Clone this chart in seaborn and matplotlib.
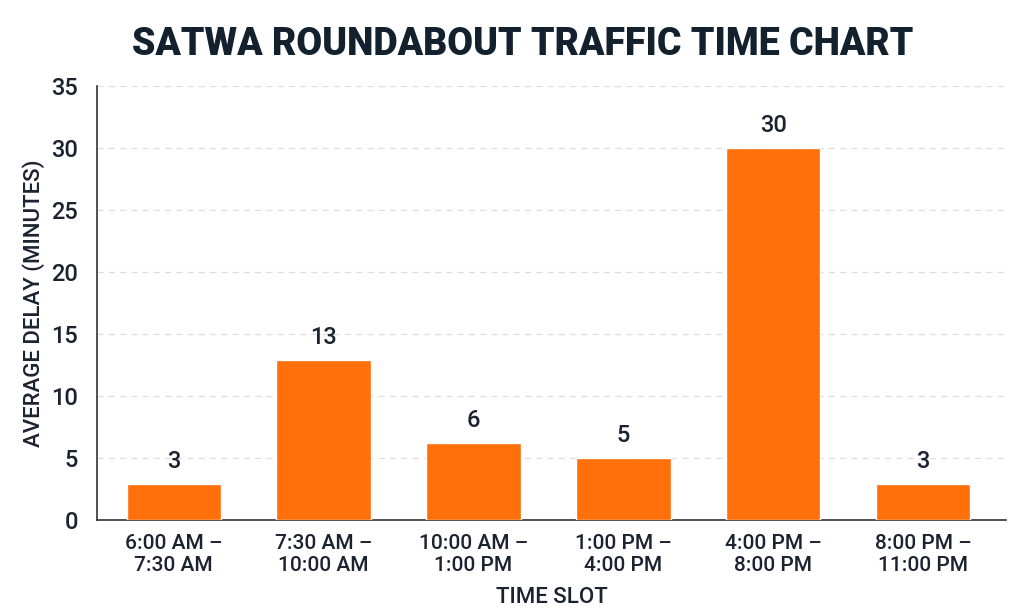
import matplotlib
matplotlib.use("Agg")
import matplotlib.pyplot as plt
import seaborn as sns
import pandas as pd

time_slots = ["6:00 AM –\n7:30 AM", "7:30 AM –\n10:00 AM", "10:00 AM –\n1:00 PM",
              "1:00 PM –\n4:00 PM", "4:00 PM –\n8:00 PM", "8:00 PM –\n11:00 PM"]
avg_delay = [2.9, 12.9, 6.2, 5.0, 30.0, 2.9]

df = pd.DataFrame({"slot": time_slots, "delay": avg_delay})

sns.set_style("white")
plt.rcParams["font.family"] = ["Roboto", "DejaVu Sans"]

text_color = "#1b2230"
bar_color = "#ff6f0a"

fig, ax = plt.subplots(figsize=(10.24, 6.14), dpi=100)
fig.subplots_adjust(left=0.095, right=0.982, top=0.86, bottom=0.153)

sns.barplot(data=df, x="slot", y="delay", color=bar_color, width=0.63,
            saturation=1, ax=ax, zorder=3)

for i, v in enumerate(avg_delay):
    ax.text(i, v + 0.9, f"{v:.0f}", ha="center", va="bottom",
            fontsize=17, fontweight="medium", color=text_color)

ax.set_ylim(0, 35)
ax.set_xlim(-0.51, 5.55)
ax.set_yticks(range(0, 36, 5))
ax.yaxis.grid(True, linestyle=(0, (5, 4)), color="#dedede", linewidth=0.9, zorder=0)
ax.set_axisbelow(True)

for s in ["top", "right"]:
    ax.spines[s].set_visible(False)
for s in ["left", "bottom"]:
    ax.spines[s].set_color("#333333")
    ax.spines[s].set_linewidth(1.2)

ax.tick_params(axis="both", length=0, colors=text_color)
ax.tick_params(axis="y", pad=14, labelsize=17)
ax.tick_params(axis="x", pad=10, labelsize=15)
for lbl in ax.get_xticklabels() + ax.get_yticklabels():
    lbl.set_fontweight("medium")

ax.set_xlabel("TIME SLOT", fontsize=16, fontweight="medium", color=text_color, labelpad=9)
ax.set_ylabel("AVERAGE DELAY (MINUTES)", fontsize=16, fontweight="medium",
              color=text_color, labelpad=4)

fig.suptitle("SATWA ROUNDABOUT TRAFFIC TIME CHART", x=0.51, y=0.957,
             fontsize=27, fontweight="heavy", color="#13202e")

fig.savefig("out.png", dpi=100, facecolor="white")
